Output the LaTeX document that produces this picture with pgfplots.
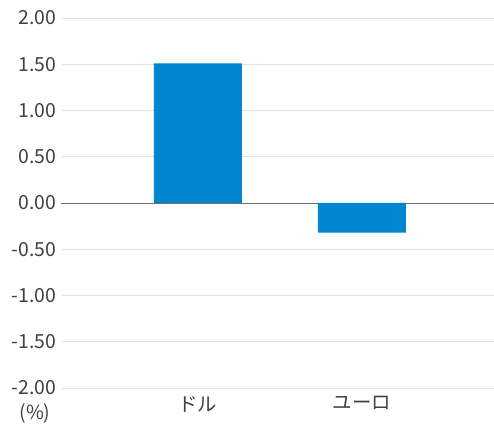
\documentclass[border=0pt]{standalone}
\usepackage{fontspec}
\setmainfont{Noto Sans CJK JP}
\usepackage{pgfplots}
\pgfplotsset{compat=1.18}
\definecolor{barblue}{HTML}{0085CF}
\definecolor{gridgray}{HTML}{E3E3E3}
\definecolor{zerogray}{HTML}{6E6E6E}
\definecolor{labelgray}{HTML}{404040}
\begin{document}
\begin{tikzpicture}
\useasboundingbox (-61bp,-38bp) rectangle (433bp,388bp);
\begin{axis}[
    at={(0,0)}, anchor=south west,
    scale only axis,
    width=433bp, height=370bp,
    xmin=-0.835, xmax=1.805,
    ymin=-2, ymax=2,
    ytick={-2,-1.5,...,2},
    xtick={0,1},
    xticklabels={ドル,ユーロ},
    axis line style={draw=none},
    major tick length=0pt,
    ymajorgrids,
    grid style={gridgray, line width=0.8pt},
    extra y ticks={0},
    extra y tick labels={},
    extra y tick style={grid style={zerogray, line width=1pt}},
    yticklabel style={/pgf/number format/fixed, /pgf/number format/fixed zerofill,
        /pgf/number format/precision=2, font=\fontsize{19.5}{22}\selectfont, text=labelgray, xshift=-1bp},
    xticklabel style={font=\fontsize{19.5}{22}\selectfont, text=labelgray, yshift=-5bp},
    /pgf/number format/assume math mode=true,
    ybar, bar width=88bp,
    clip=false
]
\addplot[fill=barblue, draw=none] coordinates {(0,1.51) (1,-0.32)};
\node[font=\fontsize{19.5}{22}\selectfont, text=labelgray] at (rel axis cs:0,0) [xshift=-26bp, yshift=-25bp] {(\%)};
\end{axis}
\end{tikzpicture}
\end{document}
